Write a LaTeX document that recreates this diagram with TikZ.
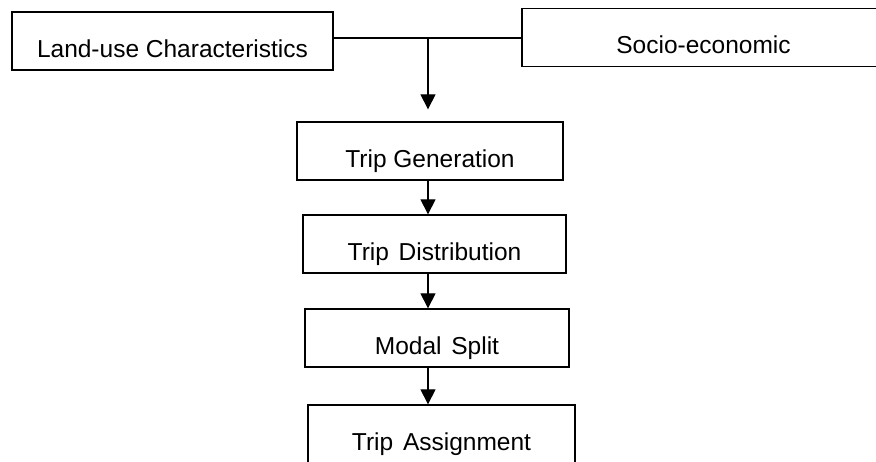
\documentclass[tikz,border=0pt]{standalone}
\usepackage{fontspec}
\setmainfont{Liberation Sans}
\usetikzlibrary{arrows.meta}

\begin{document}
\begin{tikzpicture}[x=1pt,y=-1pt,line width=1.3pt,
  stage/.style={draw,minimum height=58pt,inner sep=0pt,text height=32pt,text depth=0pt,
    font=\fontsize{24.5}{28}\selectfont},
  flow/.style={-{Triangle[width=15pt,length=15pt]},line width=1.1pt}]
  \useasboundingbox (0,0) rectangle (876,461);
  \node[stage,minimum width=321pt] (landuse) at (172.5,41) {Land-use Characteristics};
  \node[stage,minimum width=363pt] (socio) at (703.5,37.5) {Socio-economic};
  \node[stage,minimum width=266pt] (gen) at (430,151) {Trip Generation};
  \node[stage,minimum width=263pt] (dist) at (434.5,244) {Trip\hspace{0.4em}Distribution};
  \node[stage,minimum width=264pt] (modal) at (437,338) {Modal\hspace{0.4em}Split};
  \node[stage,minimum width=267pt] (assign) at (441.5,434) {Trip\hspace{0.4em}Assignment};
  \coordinate (join) at (428,38);
  \draw (landuse.east |- join) -- (socio.west |- join);
  \draw[flow,shorten >=12pt] (join) -- (gen.north -| join);
  \draw[flow] (gen.south -| join) -- (dist.north -| join);
  \draw[flow] (dist.south -| join) -- (modal.north -| join);
  \draw[flow] (modal.south -| join) -- (assign.north -| join);
\end{tikzpicture}
\end{document}
